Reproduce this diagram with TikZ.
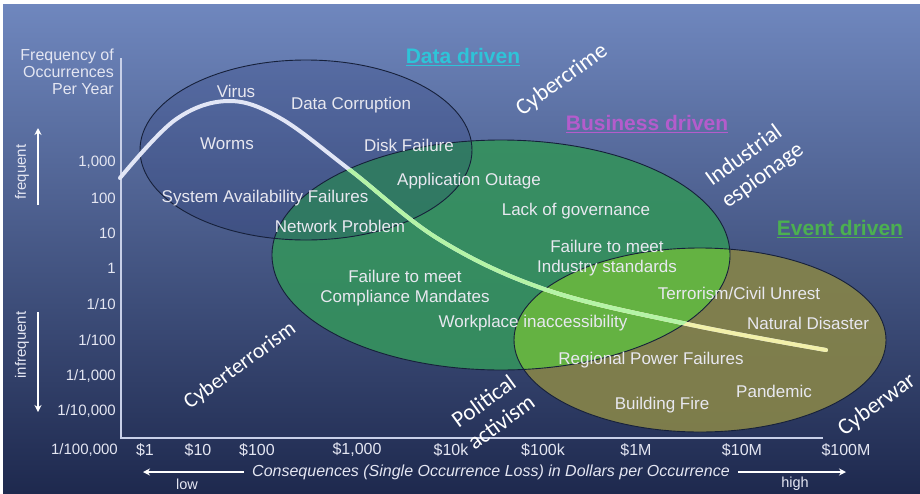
\documentclass[tikz,border=0pt]{standalone}
\usepackage{fontspec}
\setmainfont{Liberation Sans}
\newfontfamily\calfont{Carlito}
\usetikzlibrary{arrows.meta}
\definecolor{bgtop}{HTML}{6F87BE}
\definecolor{bgmid}{HTML}{4A5D9A}
\definecolor{bgbot}{HTML}{1E294E}
\definecolor{datafill}{HTML}{1A2A6A}
\definecolor{busfill}{HTML}{35915E}
\definecolor{evfill}{HTML}{85834A}
\definecolor{limefill}{HTML}{62B842}
\definecolor{lbltext}{HTML}{E8E8F0}
\definecolor{axtext}{HTML}{E4E6F2}
\definecolor{axline}{HTML}{C8D0E8}
\definecolor{outline}{HTML}{16203A}
\definecolor{cwhite}{HTML}{E2E6F6}
\definecolor{cgreen}{HTML}{B4F4A6}
\definecolor{cyellow}{HTML}{F2F0AA}
\definecolor{hdata}{HTML}{2EC4D8}
\definecolor{hbus}{HTML}{B45CCC}
\definecolor{hev}{HTML}{4CB050}
\tikzset{
  lbl/.style={text=lbltext, font=\fontsize{17}{19.5}\selectfont, inner sep=0pt, align=center},
  axnum/.style={text=axtext, font=\fontsize{15}{17}\selectfont, inner sep=0pt},
  xnum/.style={text=axtext, font=\fontsize{16}{18}\selectfont, inner sep=0pt},
  rotlbl/.style={text=white, font=\calfont\fontsize{23}{27}\selectfont, rotate=36, inner sep=0pt, align=left},
  head/.style={font=\bfseries\fontsize{21}{23}\selectfont, inner sep=0pt},
  curvestyle/.style={line width=4pt, line cap=round},
  arr/.style={draw=white, line width=1.6pt, -{Stealth[length=7pt,width=7pt]}},
  ell/.style={draw=outline, line width=0.9pt}
}
\newcommand{\riskcurve}[1]{\draw[curvestyle,#1] plot[smooth,tension=0.6] coordinates {(120,178) (175,120) (228,101) (280,118) (350,170) (440,240) (547,290) (687,324) (826,350)};}
\begin{document}
\begin{tikzpicture}[x=1pt,y=-1pt]
\useasboundingbox (0,0) rectangle (920,493);
\fill[white] (0,0) rectangle (920,493);
\shade[top color=bgtop, middle color=bgmid, bottom color=bgbot] (3,4) rectangle (920,493);

% ellipses
\fill[busfill, opacity=0.92] (501,255) ellipse [x radius=229, y radius=115];
\fill[evfill, opacity=0.92] (700,340) ellipse [x radius=186, y radius=92];
\begin{scope}
  \clip (700,340) ellipse [x radius=186, y radius=92];
  \fill[limefill, opacity=0.9] (501,255) ellipse [x radius=229, y radius=115];
\end{scope}
\fill[datafill, opacity=0.2] (306,150) ellipse [x radius=166, y radius=90];
\draw[ell] (501,255) ellipse [x radius=229, y radius=115];
\draw[ell] (700,340) ellipse [x radius=186, y radius=92];
\draw[ell] (306,150) ellipse [x radius=166, y radius=90];

% axes
\coordinate (axtop) at (121,58);
\coordinate (axorig) at (121,438);
\coordinate (axright) at (823,438);
\draw[axline, line width=1.4pt] (axtop) -- (axorig) -- (axright);

% curve
\riskcurve{cwhite}
\begin{scope}
  \clip (700,340) ellipse [x radius=186, y radius=92];
  \riskcurve{cyellow}
\end{scope}
\begin{scope}
  \clip (501,255) ellipse [x radius=229, y radius=115];
  \riskcurve{cgreen}
\end{scope}

% y axis title and labels
\node[axnum, anchor=north east, align=right, font=\fontsize{16}{17}\selectfont] (ytitle) at (114,49) {Frequency of\\Occurrences\\Per Year};
\node[axnum, anchor=east] (y1) at (116,162) {1,000};
\node[axnum, anchor=east] (y2) at (116,198) {100};
\node[axnum, anchor=east] (y3) at (116,233) {10};
\node[axnum, anchor=east] (y4) at (116,268) {1};
\node[axnum, anchor=east] (y5) at (116,304) {1/10};
\node[axnum, anchor=east] (y6) at (116,340) {1/100};
\node[axnum, anchor=east] (y7) at (116,376) {1/1,000};
\node[axnum, anchor=east] (y8) at (116,411) {1/10,000};
\node[axnum, anchor=east] (y9) at (118,450) {1/100,000};

\node[axnum, rotate=90] (freq) at (22,172) {frequent};
\node[axnum, rotate=90] (infreq) at (22,345) {infrequent};
\coordinate (fa1) at (38,205);
\coordinate (fa2) at (38,128);
\coordinate (ia1) at (38,312);
\coordinate (ia2) at (38,412);
\draw[arr] (fa1) -- (fa2);
\draw[arr] (ia1) -- (ia2);

% x axis labels
\node[xnum] (x1) at (145,450) {\$1};
\node[xnum] (x2) at (198,450) {\$10};
\node[xnum] (x3) at (257,450) {\$100};
\node[xnum] (x4) at (357,450) {\$1,000};
\node[xnum] (x5) at (451,450) {\$10k};
\node[xnum] (x6) at (543,450) {\$100k};
\node[xnum] (x7) at (636,450) {\$1M};
\node[xnum] (x8) at (742,450) {\$10M};
\node[xnum] (x9) at (846,450) {\$100M};
\node[axnum, font=\itshape\fontsize{16}{18}\selectfont] (cons) at (491,472) {Consequences (Single Occurrence Loss) in Dollars per Occurrence};
\coordinate (lowend) at (143,472);
\coordinate (highend) at (846,472);
\draw[arr, line width=1.3pt] ([xshift=-8pt]cons.west) -- (lowend);
\draw[arr, line width=1.3pt] ([xshift=8pt]cons.east) -- (highend);
\node[axnum, font=\fontsize{14.5}{16}\selectfont] (low) at (187,484) {low};
\node[axnum, font=\fontsize{14.5}{16}\selectfont] (high) at (795,484) {high};

% headings
\node[head, text=hdata] (hd) at (463,57) {\underline{Data driven}};
\node[head, text=hbus] (hb) at (647,124) {\underline{Business driven}};
\node[head, text=hev] (he) at (840,229) {\underline{Event driven}};

% item labels
\node[lbl] (virus) at (236,91) {Virus};
\node[lbl] (datacorr) at (351,105) {Data Corruption};
\node[lbl] (worms) at (227,144) {Worms};
\node[lbl] (disk) at (409,145) {Disk Failure};
\node[lbl] (appout) at (469,181) {Application Outage};
\node[lbl] (sysav) at (265,198) {System Availability Failures};
\node[lbl] (lackgov) at (576,211) {Lack of governance};
\node[lbl] (netprob) at (340,226) {Network Problem};
\node[lbl] (indstd) at (607,258) {Failure to meet\\Industry standards};
\node[lbl] (compl) at (405,288) {Failure to meet\\Compliance Mandates};
\node[lbl] (terror) at (739,293) {Terrorism/Civil Unrest};
\node[lbl] (workpl) at (533,323) {Workplace inaccessibility};
\node[lbl] (natdis) at (808,323) {Natural Disaster};
\node[lbl] (regpow) at (651,360) {Regional Power Failures};
\node[lbl] (pandem) at (774,391) {Pandemic};
\node[lbl] (bfire) at (662,405) {Building Fire};

% rotated labels
\node[rotlbl] (ccrime) at (562,80) {Cybercrime};
\node[rotlbl] (indesp) at (755,165) {Industrial\\espionage};
\node[rotlbl, font=\calfont\fontsize{21.5}{26}\selectfont] (cterr) at (240,366) {Cyberterrorism};
\node[rotlbl] (polact) at (493,411) {Political\\activism};
\node[rotlbl] (cwar) at (877,405) {Cyberwar};
\end{tikzpicture}
\end{document}
